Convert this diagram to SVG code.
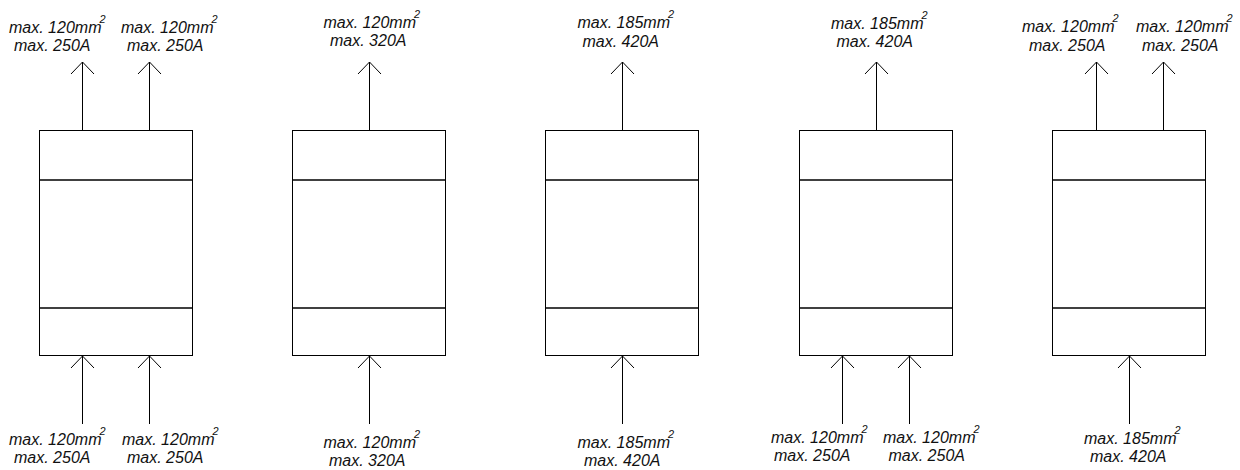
<svg xmlns="http://www.w3.org/2000/svg" width="1240" height="470" viewBox="0 0 1240 470">
<style>
.box{fill:#fff;stroke:#000;stroke-width:1}
.div{stroke:#000;stroke-width:1.5}
.conn{stroke:#000;stroke-width:1;fill:none;marker-end:url(#ah)}
.lbl{font-family:"Liberation Sans",Arial,sans-serif;font-size:16px;font-style:italic;fill:#111}
.sup{font-size:11px}
</style>
<defs>
<marker id="ah" markerUnits="userSpaceOnUse" orient="auto" markerWidth="30" markerHeight="30" viewBox="-15 -15 30 30" refX="0" refY="0" overflow="visible">
<path d="M-12,-11.5 L0,0 L-12,11.5" fill="none" stroke="#000" stroke-width="1"/>
</marker>
</defs>
<rect width="1240" height="470" fill="#fff"/>
<g id="node1"><rect class="box" x="39.5" y="130.5" width="153" height="225"/><line class="div" x1="39.5" y1="180" x2="192.5" y2="180"/><line class="div" x1="39.5" y1="308" x2="192.5" y2="308"/></g>
<g id="node2"><rect class="box" x="292.5" y="130.5" width="153" height="225"/><line class="div" x1="292.5" y1="180" x2="445.5" y2="180"/><line class="div" x1="292.5" y1="308" x2="445.5" y2="308"/></g>
<g id="node3"><rect class="box" x="545.5" y="130.5" width="153" height="225"/><line class="div" x1="545.5" y1="180" x2="698.5" y2="180"/><line class="div" x1="545.5" y1="308" x2="698.5" y2="308"/></g>
<g id="node4"><rect class="box" x="799.5" y="130.5" width="153" height="225"/><line class="div" x1="799.5" y1="180" x2="952.5" y2="180"/><line class="div" x1="799.5" y1="308" x2="952.5" y2="308"/></g>
<g id="node5"><rect class="box" x="1052.5" y="130.5" width="153" height="225"/><line class="div" x1="1052.5" y1="180" x2="1205.5" y2="180"/><line class="div" x1="1052.5" y1="308" x2="1205.5" y2="308"/></g>
<g id="connectors">
<line class="conn" x1="82.5" y1="130" x2="82.5" y2="62"/>
<line class="conn" x1="149.5" y1="130" x2="149.5" y2="62"/>
<line class="conn" x1="82.5" y1="424" x2="82.5" y2="356"/>
<line class="conn" x1="149.5" y1="424" x2="149.5" y2="356"/>
<line class="conn" x1="369.5" y1="130" x2="369.5" y2="62"/>
<line class="conn" x1="369.5" y1="424" x2="369.5" y2="356"/>
<line class="conn" x1="622.5" y1="130" x2="622.5" y2="62"/>
<line class="conn" x1="622.5" y1="424" x2="622.5" y2="356"/>
<line class="conn" x1="876.5" y1="130" x2="876.5" y2="62"/>
<line class="conn" x1="842.5" y1="424" x2="842.5" y2="356"/>
<line class="conn" x1="909.5" y1="424" x2="909.5" y2="356"/>
<line class="conn" x1="1096.5" y1="130" x2="1096.5" y2="62"/>
<line class="conn" x1="1163.5" y1="130" x2="1163.5" y2="62"/>
<line class="conn" x1="1129.5" y1="424" x2="1129.5" y2="356"/>
</g>
<g id="labels" class="lbl">
<text><tspan x="9" y="33">max. 120mm</tspan><tspan class="sup" dx="-2" dy="-10">2</tspan><tspan x="14" y="51">max. 250A</tspan></text>
<text><tspan x="121" y="33">max. 120mm</tspan><tspan class="sup" dx="-2" dy="-10">2</tspan><tspan x="127" y="51">max. 250A</tspan></text>
<text><tspan x="9" y="445">max. 120mm</tspan><tspan class="sup" dx="-2" dy="-10">2</tspan><tspan x="14" y="463">max. 250A</tspan></text>
<text><tspan x="122" y="445">max. 120mm</tspan><tspan class="sup" dx="-2" dy="-10">2</tspan><tspan x="127" y="463">max. 250A</tspan></text>
<text><tspan x="323.5" y="28">max. 120mm</tspan><tspan class="sup" dx="-2" dy="-10">2</tspan><tspan x="330" y="46">max. 320A</tspan></text>
<text><tspan x="323.5" y="448">max. 120mm</tspan><tspan class="sup" dx="-2" dy="-10">2</tspan><tspan x="329" y="466">max. 320A</tspan></text>
<text><tspan x="577.5" y="28">max. 185mm</tspan><tspan class="sup" dx="-2" dy="-10">2</tspan><tspan x="582.5" y="46.5">max. 420A</tspan></text>
<text><tspan x="577.5" y="448">max. 185mm</tspan><tspan class="sup" dx="-2" dy="-10">2</tspan><tspan x="584" y="466">max. 420A</tspan></text>
<text><tspan x="831" y="28.5">max. 185mm</tspan><tspan class="sup" dx="-2" dy="-10">2</tspan><tspan x="836.5" y="46.5">max. 420A</tspan></text>
<text><tspan x="771" y="443">max. 120mm</tspan><tspan class="sup" dx="-2" dy="-10">2</tspan><tspan x="774" y="460.5">max. 250A</tspan></text>
<text><tspan x="883" y="443">max. 120mm</tspan><tspan class="sup" dx="-2" dy="-10">2</tspan><tspan x="888.5" y="460.5">max. 250A</tspan></text>
<text><tspan x="1022" y="32">max. 120mm</tspan><tspan class="sup" dx="-2" dy="-10">2</tspan><tspan x="1029" y="51">max. 250A</tspan></text>
<text><tspan x="1136" y="32">max. 120mm</tspan><tspan class="sup" dx="-2" dy="-10">2</tspan><tspan x="1142" y="51">max. 250A</tspan></text>
<text><tspan x="1084" y="444">max. 185mm</tspan><tspan class="sup" dx="-2" dy="-10">2</tspan><tspan x="1090" y="462">max. 420A</tspan></text>
</g>
</svg>
